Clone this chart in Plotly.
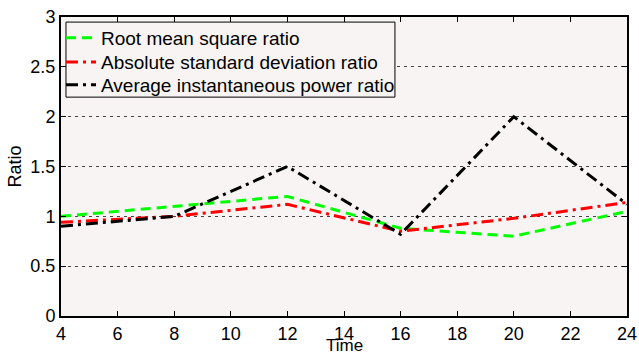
import plotly.graph_objects as go

time = [4, 8, 12, 16, 20, 24]
rms_ratio = [1.0, 1.1, 1.2, 0.88, 0.8, 1.05]
asd_ratio = [0.94, 1.0, 1.12, 0.85, 0.98, 1.14]
aip_ratio = [0.9, 1.0, 1.5, 0.82, 2.0, 1.12]

x_ticks = [4, 6, 8, 10, 12, 14, 16, 18, 20, 22, 24]
y_ticks = [0, 0.5, 1, 1.5, 2, 2.5, 3]
y_tick_labels = ["0", "0.5", "1", "1.5", "2", "2.5", "3"]

font_family = "Liberation Sans, Arial, Helvetica, sans-serif"
bg = "#F8F4F4"

fig = go.Figure()
fig.add_trace(go.Scatter(x=time, y=rms_ratio, mode="lines", name="Root mean square ratio",
                         line=dict(color="#00FF00", width=3, dash="10px,6px"), legend="legend"))
fig.add_trace(go.Scatter(x=time, y=asd_ratio, mode="lines", name="Absolute standard deviation ratio",
                         line=dict(color="#FF0000", width=3, dash="12px,5px,3px,5px"), legend="legend2"))
fig.add_trace(go.Scatter(x=time, y=aip_ratio, mode="lines", name="Average instantaneous power ratio",
                         line=dict(color="#000000", width=3, dash="12px,5px,3px,5px"), legend="legend3"))

def leg(yc):
    return dict(x=0.0, y=yc, xanchor="left", yanchor="middle",
                bgcolor="rgba(0,0,0,0)", borderwidth=0,
                font=dict(size=19), tracegroupgap=0, itemwidth=30)

fig.update_layout(
    width=639, height=356,
    margin=dict(l=61, r=12, t=17, b=40, autoexpand=False),
    paper_bgcolor="white",
    plot_bgcolor=bg,
    font=dict(family=font_family, size=18, color="black"),
    showlegend=True,
    legend=leg(0.9298),
    legend2=leg(0.849),
    legend3=leg(0.7726),
    shapes=[dict(type="rect", xref="paper", yref="paper",
                 x0=0.0088, x1=0.590, y0=0.732, y1=0.983,
                 fillcolor=bg, line=dict(color="black", width=1), layer="above")],
    annotations=[dict(text="Time", xref="paper", yref="paper", x=0.5, y=-0.1338,
                      xanchor="center", yanchor="bottom", borderpad=0, showarrow=False,
                      font=dict(size=17))],
)
fig.update_xaxes(
    range=[4, 24], tickvals=x_ticks, ticktext=[str(v) for v in x_ticks],
    showline=True, linecolor="black", linewidth=2, mirror="ticks",
    ticks="inside", ticklen=5, tickcolor="black", showgrid=False, zeroline=False,
    automargin=False,
)
fig.update_yaxes(
    range=[0, 3], tickvals=y_ticks, ticktext=y_tick_labels,
    showline=True, linecolor="black", linewidth=2, mirror="ticks",
    ticks="inside", ticklen=5, tickcolor="black",
    showgrid=True, gridcolor="#444444", gridwidth=1, griddash="3px,4px", zeroline=False,
    automargin=False,
    title=dict(text="Ratio", standoff=4, font=dict(size=18)),
)

fig.write_html("out.html")
